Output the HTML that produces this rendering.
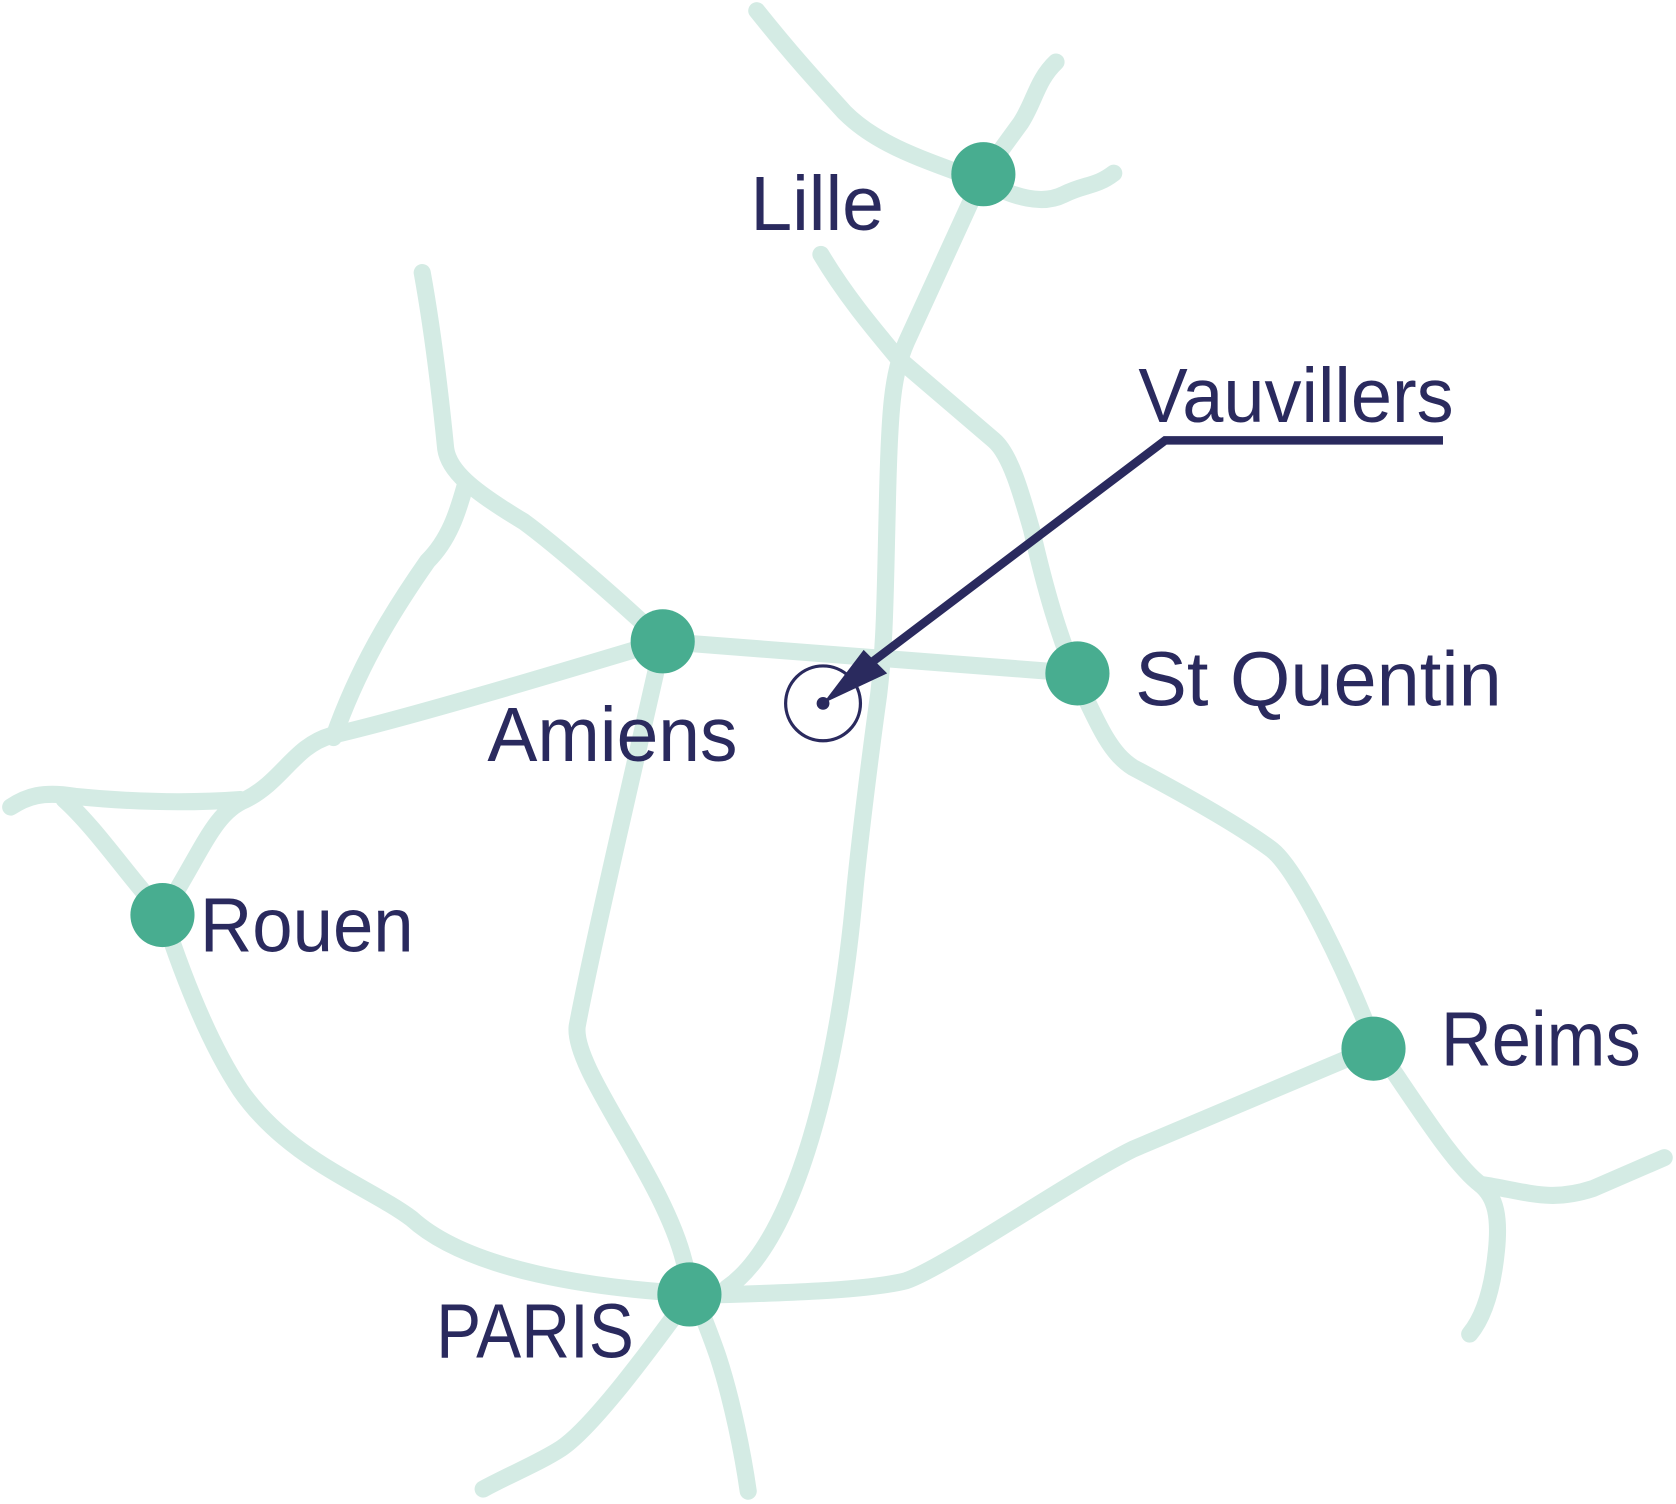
<!DOCTYPE html>
<html><head><style>html,body{margin:0;padding:0;background:#fff}svg{display:block}</style></head>
<body>
<svg width="1676" height="1504" viewBox="0 0 1568 1407" preserveAspectRatio="none" xmlns="http://www.w3.org/2000/svg">
<g fill="none" stroke="#d4ebe4" stroke-width="16" stroke-linecap="round" stroke-linejoin="round">
<path d="M708,10 C740,50 760,72 790,105 C820,135 860,148 920,170 C950,185 975,192 995,182 C1015,172 1025,175 1042,162"/>
<path d="M988,58 C970,75 968,95 955,115 L920,163 L848,320 C835,350 832,380 830,480 C828,560 828,600 822,650 C815,700 805,780 800,830 C785,1000 745,1160 680,1205"/>
<path d="M768,238 C790,275 815,305 840,335 L930,412 C945,425 955,460 965,495 C980,560 990,590 1005,630 C1030,685 1040,705 1060,718 C1130,755 1170,780 1190,795 C1215,815 1260,910 1285,975 C1320,1025 1360,1090 1385,1108 C1430,1115 1450,1125 1490,1112 L1557,1083"/>
<path d="M1385,1108 C1400,1120 1403,1140 1400,1170 C1397,1200 1390,1230 1375,1248"/>
<path d="M395,255 C405,310 412,370 417,420 C420,440 440,458 490,488 C520,510 580,562 620,600 L1008,630"/>
<path d="M435,455 C428,480 420,505 400,525 C365,575 335,625 312,690"/>
<path d="M620,600 C520,630 380,672 310,688 C275,698 265,730 230,748 C200,760 190,795 152,855"/>
<path d="M10,755 C25,745 40,740 70,745 C120,750 170,752 225,748"/>
<path d="M60,748 C90,775 120,820 152,855 C170,910 195,975 225,1020 C270,1085 345,1110 385,1140 C440,1190 560,1205 640,1210"/>
<path d="M620,600 C600,690 555,880 540,960 C535,1000 620,1100 640,1180 C648,1210 662,1240 672,1270 C685,1310 695,1360 700,1395"/>
<path d="M452,1393 C480,1378 505,1368 525,1355 C555,1335 610,1260 645,1212"/>
<path d="M645,1212 C720,1210 810,1208 848,1198 C885,1185 1000,1105 1060,1075 L1285,980"/>
</g>
<g fill="#48ad90">
<circle cx="920" cy="163" r="30"/><circle cx="620" cy="600" r="30"/><circle cx="1008" cy="630" r="30"/>
<circle cx="152" cy="856" r="30"/><circle cx="1285" cy="981" r="30"/><circle cx="645" cy="1211" r="30"/>
</g>
<g fill="#2a2a5e" font-family="Liberation Sans, sans-serif" font-size="72">
<text x="702" y="215" textLength="125" lengthAdjust="spacingAndGlyphs">Lille</text>
<text x="1065" y="395" textLength="295" lengthAdjust="spacingAndGlyphs">Vauvillers</text>
<text x="1062" y="660" textLength="343" lengthAdjust="spacingAndGlyphs">St Quentin</text>
<text x="456" y="712" textLength="234" lengthAdjust="spacingAndGlyphs">Amiens</text>
<text x="187" y="890" textLength="200" lengthAdjust="spacingAndGlyphs">Rouen</text>
<text x="1348" y="997" textLength="187" lengthAdjust="spacingAndGlyphs">Reims</text>
<text x="408" y="1270" textLength="185" lengthAdjust="spacingAndGlyphs">PARIS</text>
</g>
<g stroke="#2a2a5e" fill="none">
<polyline points="1350,412 1090,412 815,620" stroke-width="8"/>
<circle cx="770" cy="658" r="35" stroke-width="3"/>
</g>
<circle cx="770" cy="658" r="6" fill="#2a2a5e"/>
<polygon points="770,658 808,608 830,630" fill="#2a2a5e"/>
</svg>
</body></html>
